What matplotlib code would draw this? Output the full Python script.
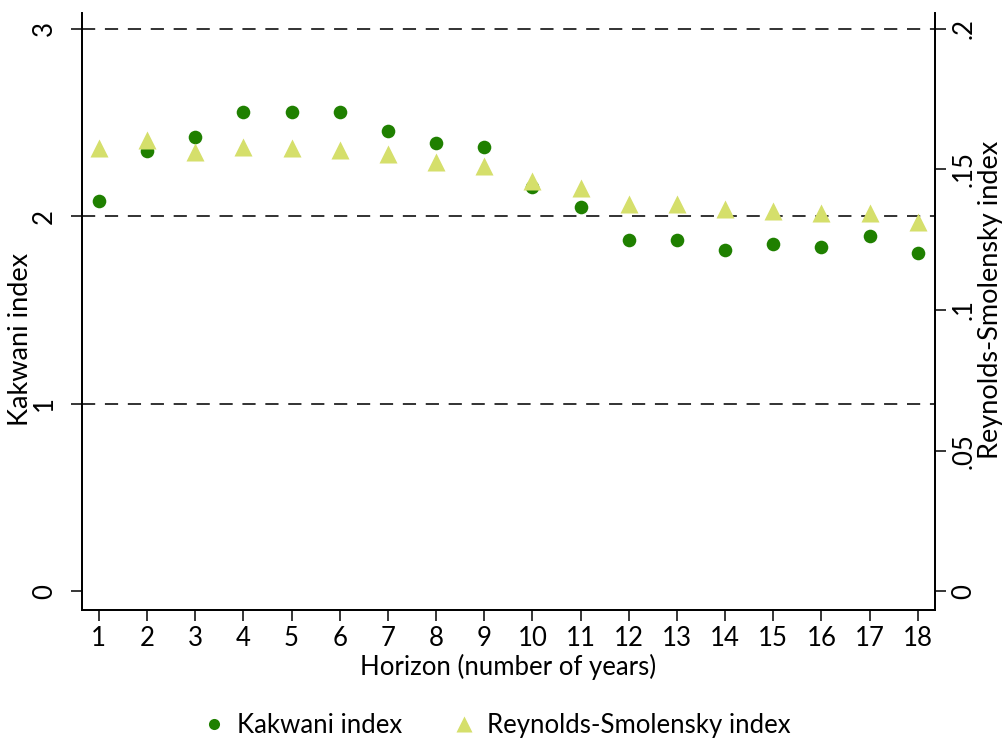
import matplotlib
matplotlib.use("Agg")
import matplotlib.pyplot as plt
from matplotlib.lines import Line2D

plt.rcParams['font.family'] = ['Lato', 'DejaVu Sans']
plt.rcParams['lines.scale_dashes'] = False

horizon = list(range(1, 19))
kakwani = [2.08, 2.345, 2.42, 2.556, 2.556, 2.556, 2.455, 2.388, 2.368, 2.155,
           2.05, 1.875, 1.875, 1.822, 1.849, 1.836, 1.895, 1.801]
reynolds = [0.1575, 0.1603, 0.1563, 0.1579, 0.1574, 0.1569, 0.1554, 0.1524, 0.1513, 0.1458,
            0.1432, 0.1375, 0.1377, 0.1358, 0.1353, 0.1344, 0.1344, 0.1312]
left_ticks = [0, 1, 2, 3]
right_ticks = [0, 0.05, 0.1, 0.15, 0.2]
right_labels = ['0', '.05', '.1', '.15', '.2']

c_dark = '#1f8000'
c_light = '#d5df6b'
fs = 18.5
fs_y = 19.5

fig = plt.figure(figsize=(10.02, 7.4), dpi=100)
ax = fig.add_axes([0.0818, 0.1757, 0.851, 0.8067])
ax2 = ax.twinx()

ylo, yhi = -0.1, 3.083
ax.set_ylim(ylo, yhi)
ax2.set_ylim(ylo / 15, yhi / 15)
ax.set_xlim(0.65, 18.35)

for g in [1, 2, 3]:
    ax.axhline(g, color='#222222', lw=1.3, dashes=(9.5, 7), zorder=1)

ax.plot(horizon, kakwani, 'o', color=c_dark, ms=9.8, mec='none', zorder=3)
ax2.plot(horizon, reynolds, '^', color=c_light, ms=13.5, mec='none', zorder=4)

for a in (ax, ax2):
    a.spines['top'].set_visible(False)
    for s in a.spines.values():
        s.set_linewidth(1.3)

ax.set_xticks(horizon)
ax.set_yticks(left_ticks)
ax.set_yticklabels([str(t) for t in left_ticks], rotation=90, va='center')
ax2.set_yticks(right_ticks)
ax2.set_yticklabels(right_labels, rotation=90, va='center')
ax.tick_params(axis='both', labelsize=fs, length=8, width=1.1, direction='out')
ax.tick_params(axis='y', pad=10)
ax2.tick_params(axis='y', labelsize=fs, length=8, width=1.1, pad=4)

ax.set_xlabel('Horizon (number of years)', fontsize=fs, labelpad=2)
ax.set_ylabel('Kakwani index', fontsize=fs_y)
ax.yaxis.set_label_coords(-0.057, 0.453)
ax2.set_ylabel('Reynolds-Smolensky index', fontsize=fs_y)
ax2.yaxis.set_label_coords(1.051, 0.52)

handles = [Line2D([], [], marker='o', ls='none', color=c_dark, ms=8, mec='none'),
           Line2D([], [], marker='^', ls='none', color=c_light, ms=12, mec='none')]
fig.legend(handles, ['Kakwani index', 'Reynolds-Smolensky index'], loc='center',
           bbox_to_anchor=(0.494, 0.02), ncol=2, frameon=False, fontsize=fs,
           handletextpad=0.3, columnspacing=1.8, handlelength=1.2)

fig.savefig('out.png', dpi=100)
